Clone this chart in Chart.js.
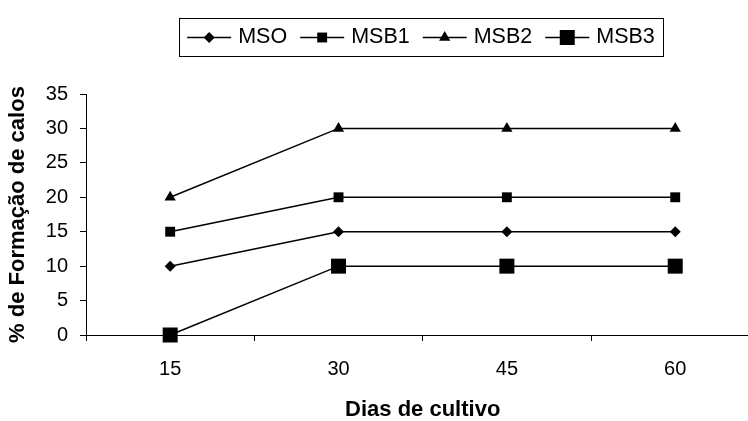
<!DOCTYPE html>
<html>
<head>
<meta charset="utf-8">
<script src="https://cdn.jsdelivr.net/npm/chart.js@4/dist/chart.umd.min.js"></script>
<style>
  html, body { margin: 0; padding: 0; background: #ffffff; overflow: hidden; }
  #wrap { width: 770px; height: 421px; }
</style>
</head>
<body>
<div id="wrap"><canvas id="c" width="770" height="421"></canvas></div>
<script>
// ---- data ----
const categories = ["15", "30", "45", "60"];
const seriesNames = ["MSO", "MSB1", "MSB2", "MSB3"];
const msoValues  = [10, 15, 15, 15];
const msb1Values = [15, 20, 20, 20];
const msb2Values = [20, 30, 30, 30];
const msb3Values = [0, 10, 10, 10];
const yTicks = [0, 5, 10, 15, 20, 25, 30, 35];
const xTitle = "Dias de cultivo";
const yTitle = "% de Formação de calos";

const markers = [
  { style: 'rectRot', radius: 5.5 },
  { style: 'rect', radius: 7 },
  { style: 'triangle', radius: 6.5 },
  { style: 'rect', radius: 10.6 }
];
const allValues = [msoValues, msb1Values, msb2Values, msb3Values];

const datasets = seriesNames.map((name, i) => ({
  label: name,
  data: allValues[i],
  borderColor: '#000',
  backgroundColor: '#000',
  borderWidth: 1.5,
  pointStyle: markers[i].style,
  pointRadius: markers[i].radius,
  pointHoverRadius: markers[i].radius,
  pointBackgroundColor: '#000',
  pointBorderColor: '#000',
  pointBorderWidth: 0,
  tension: 0,
  clip: false,
  fill: false
}));

const legendPlugin = {
  id: 'boxLegend',
  afterDraw(chart) {
    const ctx = chart.ctx;
    const boxL = 179, boxR = 663, boxT = 18, boxB = 56;
    ctx.save();
    ctx.strokeStyle = '#000';
    ctx.lineWidth = 1;
    ctx.strokeRect(boxL + 0.5, boxT + 0.5, boxR - boxL, boxB - boxT);
    ctx.font = '21.5px "Liberation Sans", Arial, sans-serif';
    ctx.textBaseline = 'middle';
    ctx.fillStyle = '#000';
    const lineLen = 44, gap1 = 7, gap2 = 13;
    const widths = seriesNames.map(n => ctx.measureText(n).width);
    let total = 0;
    widths.forEach((w, i) => { total += lineLen + gap1 + w + (i < widths.length - 1 ? gap2 : 0); });
    let x = (boxL + boxR) / 2 - total / 2;
    const y = (boxT + boxB) / 2 + 0.5;
    seriesNames.forEach((n, i) => {
      ctx.beginPath();
      ctx.lineWidth = 1.5;
      ctx.moveTo(x, y);
      ctx.lineTo(x + lineLen, y);
      ctx.stroke();
      ctx.fillStyle = '#000';
      Chart.helpers.drawPoint(ctx, {
        pointStyle: markers[i].style,
        radius: markers[i].radius,
        rotation: 0,
        borderWidth: 0
      }, x + lineLen / 2, y);
      ctx.fillText(n, x + lineLen + gap1, y);
      x += lineLen + gap1 + widths[i] + gap2;
    });
    ctx.restore();
  }
};

const tickFont = { family: '"Liberation Sans", Arial, sans-serif', size: 20 };
const titleFont = { family: '"Liberation Sans", Arial, sans-serif', size: 22, weight: 'bold', lineHeight: 1 };

new Chart(document.getElementById('c'), {
  type: 'line',
  data: { labels: categories, datasets },
  options: {
    responsive: false,
    animation: false,
    devicePixelRatio: 1,
    layout: { padding: { top: 94, right: 10, left: 0, bottom: 0 } },
    plugins: { legend: { display: false }, tooltip: { enabled: false }, title: { display: false } },
    scales: {
      x: {
        type: 'category',
        offset: true,
        grid: { display: true, drawOnChartArea: false, drawTicks: true, tickLength: 6, color: '#000', offset: true },
        border: { display: true, color: '#000', width: 1 },
        ticks: { color: '#000', font: tickFont, padding: 16, maxRotation: 0, autoSkip: false },
        title: { display: true, text: xTitle, color: '#000', font: titleFont, padding: { top: 0, bottom: 0 } },
        afterFit(scale) { scale.height = 86; }
      },
      y: {
        type: 'linear',
        min: 0,
        max: 35,
        afterBuildTicks(scale) { scale.ticks = yTicks.map(v => ({ value: v })); },
        grid: { display: true, drawOnChartArea: false, drawTicks: true, tickLength: 6, color: '#000' },
        border: { display: true, color: '#000', width: 1 },
        ticks: { color: '#000', font: tickFont, padding: 12 },
        title: { display: true, text: yTitle, color: '#000', font: titleFont, padding: { top: 7, bottom: 0 } },
        afterFit(scale) { scale.width = 86; }
      }
    }
  },
  plugins: [legendPlugin]
});
</script>
</body>
</html>
